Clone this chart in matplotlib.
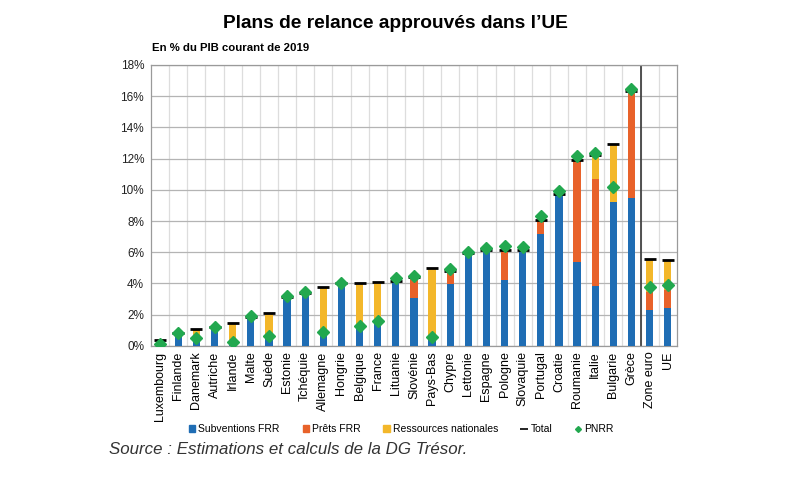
import matplotlib
matplotlib.use("Agg")
import matplotlib.pyplot as plt
import numpy as np
from matplotlib.lines import Line2D
from matplotlib.patches import Patch

plt.rcParams["font.family"] = ["Liberation Sans", "DejaVu Sans"]

countries = ["Luxembourg", "Finlande", "Danemark", "Autriche", "Irlande", "Malte", "Suède",
             "Estonie", "Tchéquie", "Allemagne", "Hongrie", "Belgique", "France", "Lituanie",
             "Slovénie", "Pays-Bas", "Chypre", "Lettonie", "Espagne", "Pologne", "Slovaquie",
             "Portugal", "Croatie", "Roumanie", "Italie", "Bulgarie", "Grèce", "Zone euro", "UE"]
subventions = [0.3, 0.8, 0.5, 1.2, 0.3, 1.85, 0.65, 3.1, 3.4, 0.9, 4.0, 1.25, 1.6, 4.15,
               3.05, 0.4, 3.95, 5.95, 6.15, 4.2, 6.15, 7.2, 9.7, 5.4, 3.85, 9.25, 9.45, 2.27, 2.41]
prets = [0, 0, 0, 0, 0, 0, 0, 0, 0, 0, 0, 0, 0, 0,
         1.35, 0, 0.85, 0, 0, 1.95, 0, 0.85, 0, 6.5, 6.85, 0, 6.85, 1.2, 1.18]
ressources = [0.05, 0, 0.6, 0, 1.15, 0, 1.45, 0, 0, 2.85, 0, 2.8, 2.5, 0,
              0, 4.6, 0, 0, 0, 0, 0, 0, 0, 0, 1.55, 3.7, 0, 2.1, 1.9]
pnrr = [0.1, 0.8, 0.5, 1.2, 0.28, 1.9, 0.65, 3.2, 3.45, 0.87, 4.0, 1.25, 1.6, 4.35,
        4.5, 0.6, 4.95, 6.0, 6.25, 6.4, 6.35, 8.3, 9.9, 12.15, 12.35, 10.2, 16.45, 3.75, 3.87]
yticks = [0, 2, 4, 6, 8, 10, 12, 14, 16, 18]

blue = "#1f6db4"
orange = "#e8622a"
yellow = "#f3b72a"
green = "#22a84f"

fig = plt.figure(figsize=(7.87, 4.92), dpi=100)
ax = fig.add_axes([0.192, 0.297, 0.668, 0.571])

x = np.arange(len(countries))
s = np.array(subventions)
p = np.array(prets)
r = np.array(ressources)
total = s + p + r
w = 0.4
ax.bar(x, s, w, color=blue, zorder=3)
ax.bar(x, p, w, bottom=s, color=orange, zorder=3)
ax.bar(x, r, w, bottom=s + p, color=yellow, zorder=3)
ax.plot(x, total, linestyle="none", marker="_", markersize=8, markeredgewidth=2,
        color="black", zorder=4)
ax.plot(x, pnrr, linestyle="none", marker="D", markersize=6, color=green, zorder=5)

ax.set_xlim(-0.5, len(countries) - 0.5)
ax.set_ylim(0, 18)
ax.set_yticks(yticks)
ax.set_yticklabels([f"{v}%" for v in yticks], fontsize=8.5, color="#222222")
ax.set_xticks(x)
ax.set_xticklabels(countries, rotation=90, fontsize=9)
ax.tick_params(axis="x", length=0, pad=4)
ax.tick_params(axis="y", length=0, pad=5)
ax.set_xticks(np.arange(len(countries) - 1) + 0.5, minor=True)
ax.tick_params(axis="x", which="minor", length=0)
ax.grid(axis="y", color="#b4b4b4", linewidth=0.9, zorder=0)
ax.grid(axis="x", which="minor", color="#dddddd", linewidth=0.9, zorder=0)
ax.axvline(26.5, color="#444444", linewidth=1.3, zorder=2)
for sp in ax.spines.values():
    sp.set_color("#9a9a9a")
    sp.set_linewidth(0.9)

fig.text(0.502, 0.953, "Plans de relance approuvés dans l’UE", ha="center", va="center",
         fontsize=13.8, fontweight="bold")
fig.text(0.193, 0.902, "En % du PIB courant de 2019", ha="left", va="center",
         fontsize=8.2, fontweight="bold")

handles = [Patch(facecolor=blue, edgecolor=blue), Patch(facecolor=orange, edgecolor=orange),
           Patch(facecolor=yellow, edgecolor=yellow),
           Line2D([], [], color="black", marker="_", linestyle="none", markersize=6, markeredgewidth=1.2),
           Line2D([], [], color=green, marker="D", linestyle="none", markersize=3)]
labels = ["Subventions FRR", "Prêts FRR", "Ressources nationales", "Total", "PNRR"]
fig.legend(handles, labels, loc="center", bbox_to_anchor=(0.51, 0.128), ncol=5, frameon=False,
           fontsize=7.5, handlelength=0.6, handleheight=0.6, handletextpad=0.3, columnspacing=2.2)

fig.text(0.139, 0.087, "Source : Estimations et calculs de la DG Trésor.", ha="left", va="center",
         fontsize=12.2, style="italic", color="#333333")

fig.savefig("out.png", dpi=100)
